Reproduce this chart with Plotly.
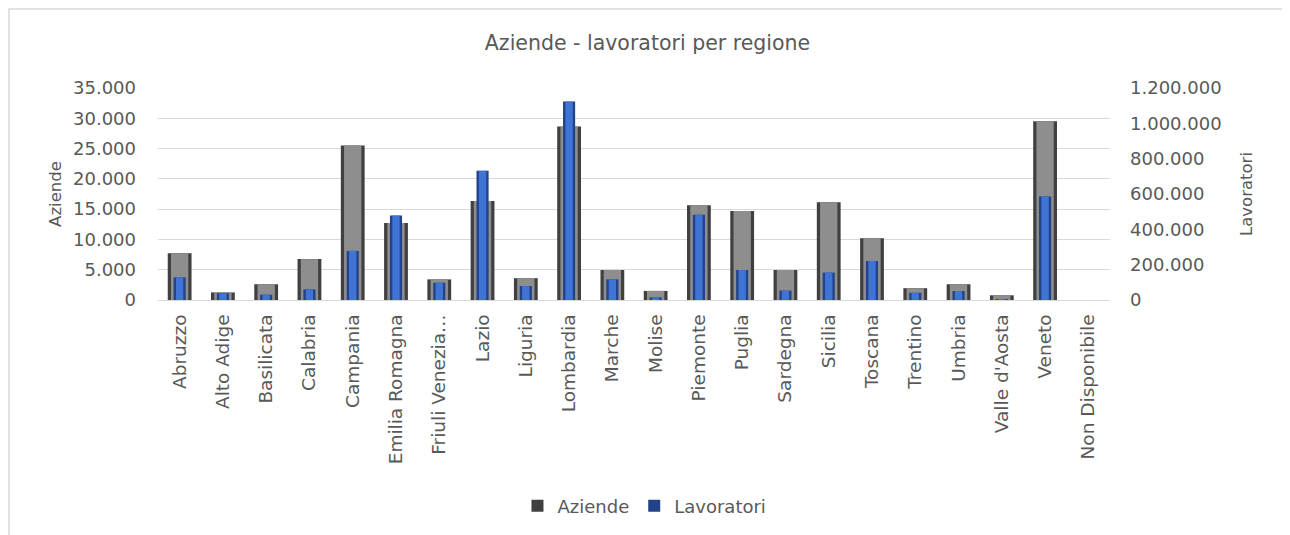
import plotly.graph_objects as go

regioni = [
    'Abruzzo', 'Alto Adige', 'Basilicata', 'Calabria', 'Campania', 'Emilia Romagna',
    'Friuli Venezia…', 'Lazio', 'Liguria', 'Lombardia', 'Marche', 'Molise', 'Piemonte',
    'Puglia', 'Sardegna', 'Sicilia', 'Toscana', 'Trentino', 'Umbria', "Valle d'Aosta",
    'Veneto', 'Non Disponibile',
]
aziende = [
    7700, 1250, 2600, 6750, 25500, 12700, 3400, 16350, 3600, 28650, 4950, 1500,
    15650, 14700, 4950, 16150, 10200, 1950, 2600, 780, 29500, 0,
]
lavoratori = [
    128000, 38000, 30000, 60000, 278000, 478000, 98000, 731000, 79000, 1124000, 117000, 15000,
    482000, 170000, 53000, 155000, 221000, 41000, 51000, 5000, 586000, 0,
]

FONT = 'DejaVu Sans'
TEXT = '#595959'
W, H = 1282, 527  # page body keeps an 8px margin
L, R, T, B = 150, 180, 80, 235
PW, PH = W - L - R, H - T - B

fig = go.Figure()
# gray bars: dark outer edge + lighter core for a bevelled look
fig.add_trace(go.Bar(x=regioni, y=aziende, name='Aziende', width=0.55,
                     marker=dict(color='#404040', line=dict(width=0)), yaxis='y'))
fig.add_trace(go.Bar(x=regioni, y=aziende, width=0.40, showlegend=False, hoverinfo='skip',
                     marker=dict(color='#8e8e8e', line=dict(width=0)), yaxis='y'))
# blue bars on the secondary axis
fig.add_trace(go.Bar(x=regioni, y=lavoratori, name='Lavoratori', width=0.28,
                     marker=dict(color='#22428a', line=dict(width=0)), yaxis='y2'))
fig.add_trace(go.Bar(x=regioni, y=lavoratori, width=0.17, showlegend=False, hoverinfo='skip',
                     marker=dict(color='#3f74d4', line=dict(width=0)), yaxis='y2'))

fig.update_layout(
    width=W,
    height=H,
    barmode='overlay',
    separators=',.',
    paper_bgcolor='white',
    plot_bgcolor='white',
    font=dict(family=FONT, size=18, color=TEXT),
    margin=dict(l=L, r=R, t=T, b=B),
    title=dict(text='Aziende - lavoratori per regione', x=(639.5 - L) / PW, xref='paper',
               xanchor='center', y=1 - 35 / H, yanchor='middle', font=dict(size=20.5, color=TEXT)),
    xaxis=dict(tickangle=-90, showgrid=False, showline=True, linecolor='#d9d9d9', linewidth=1,
               ticks='', ticklabelstandoff=6, tickfont=dict(size=18.5)),
    yaxis=dict(range=[0, 35000], dtick=5000, tickformat=',', showgrid=True, gridcolor='#d9d9d9',
               zeroline=False, ticks='', ticklabelstandoff=21,
               title=dict(text='Aziende', standoff=7, font=dict(size=16.5))),
    yaxis2=dict(range=[0, 1200000], dtick=200000, tickformat=',', overlaying='y', side='right',
                showgrid=False, zeroline=False, ticks='', ticklabelstandoff=19,
                title=dict(text='Lavoratori', standoff=19, font=dict(size=16.5))),
    legend=dict(orientation='h', x=0.511, xanchor='center', y=1 - 498 / H, yref='container',
                yanchor='middle', font=dict(size=18), traceorder='normal', itemwidth=30),
    shapes=[dict(type='rect', xref='paper', yref='paper', x0=-(L - 1) / PW, x1=1.2, y0=-1.5,
                 y1=1 + (T - 1) / PH, line=dict(color='#d9d9d9', width=1.5), layer='below')],
)

fig.write_html('out.html')
